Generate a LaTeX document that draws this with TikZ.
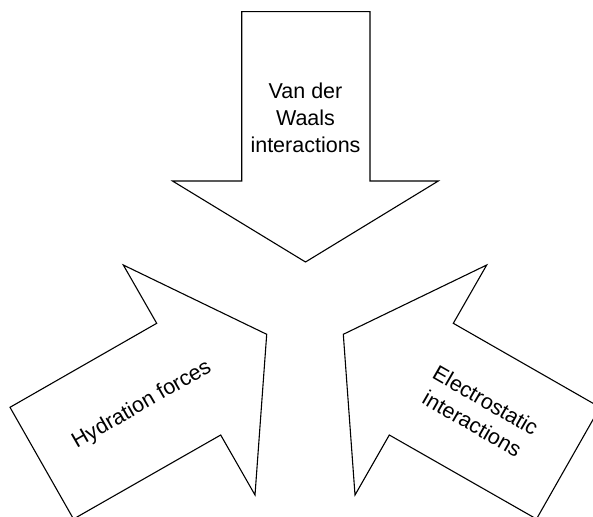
\documentclass[tikz,border=0pt]{standalone}
\usepackage{fontspec}
\setmainfont{Liberation Sans}
\begin{document}
\begin{tikzpicture}[x=1pt,y=-1pt,
  blockarrow/.style={draw=black, line width=1.1pt, line join=miter, fill=white},
  caption/.style={font=\fontsize{21.5}{27}\selectfont, align=center, inner sep=0pt}]
  \useasboundingbox (0,0) rectangle (593,516);
  \clip (0,0) rectangle (593,516);

  % downward arrow
  \draw[blockarrow] (241.7,11.7) -- (370,11.7) -- (370,181) -- (438.3,181)
    -- (305.5,262) -- (172.5,181) -- (241.7,181) -- cycle;
  % arrow from the lower left
  \draw[blockarrow] (10,407.3) -- (156.7,323.3) -- (123.3,265) -- (266.7,334.3)
    -- (255,495) -- (220.7,435) -- (73.5,519) -- cycle;
  % arrow from the lower right
  \draw[blockarrow] (600,407.3) -- (453.3,323.3) -- (486.7,265) -- (343.3,334.3)
    -- (355,495) -- (389.3,435) -- (536.5,519) -- cycle;

  \node[caption] (vdw) at (305.5,117.8) {Van der\\Waals\\interactions};
  \node[caption, rotate=30] (hyd) at (142,405) {Hydration forces};
  \node[caption, rotate=-30] (elec) at (479,412) {Electrostatic\\interactions};
\end{tikzpicture}
\end{document}
